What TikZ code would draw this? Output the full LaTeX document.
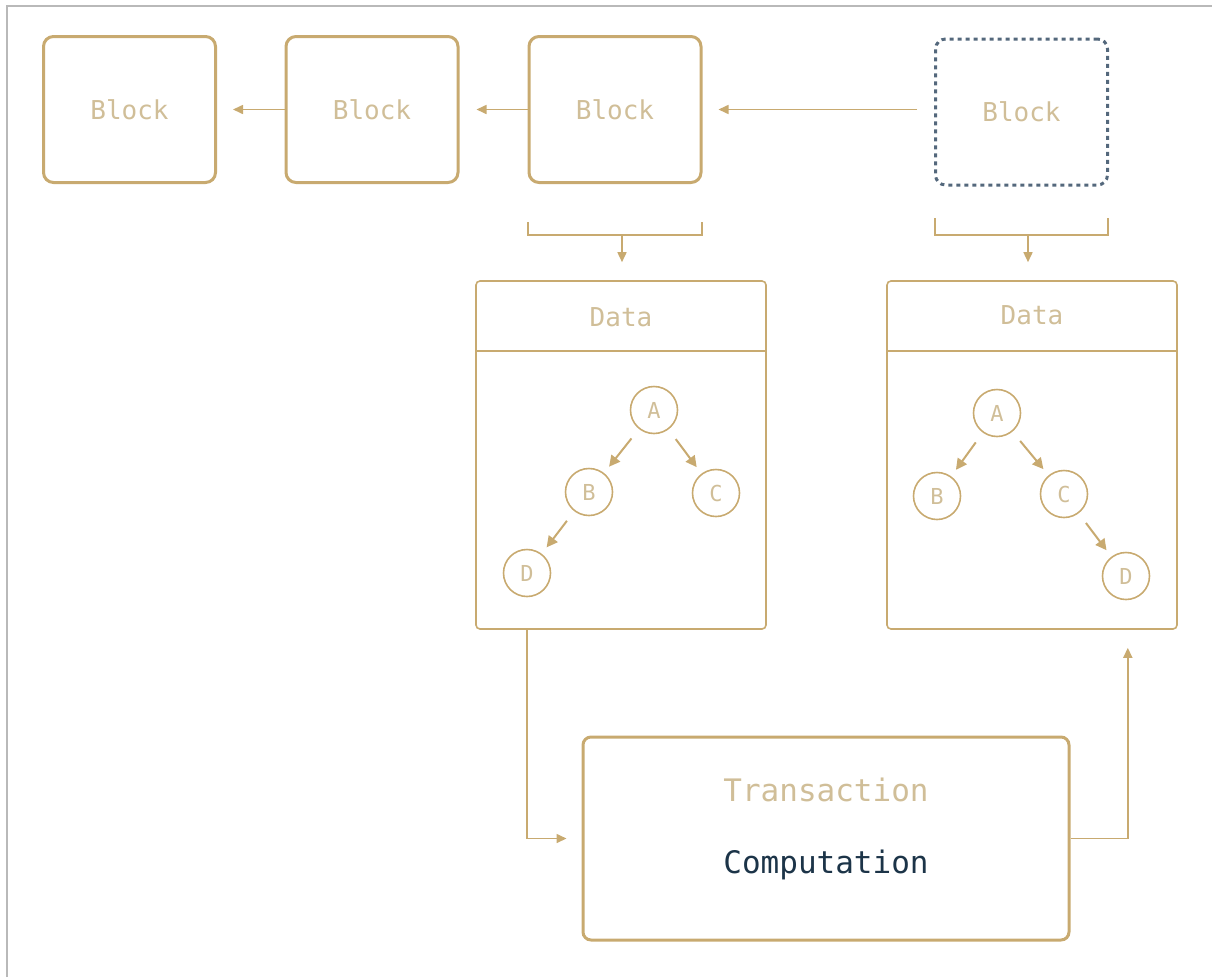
\documentclass[tikz,border=0pt]{standalone}
\usepackage{fontspec}
\setmonofont{DejaVu Sans Mono}
\usetikzlibrary{arrows.meta}
\definecolor{gold}{RGB}{200,170,112}
\definecolor{goldtxt}{RGB}{208,190,152}
\definecolor{navy}{RGB}{28,52,72}
\definecolor{dashblue}{RGB}{84,104,124}
\definecolor{frame}{RGB}{185,185,185}
\tikzset{
  blk/.style={draw=gold, line width=3pt, rounded corners=10pt, minimum width=172pt, minimum height=146pt, inner sep=0pt, text=goldtxt, font=\fontsize{26}{30}\selectfont\ttfamily},
  dashblk/.style={blk, draw=dashblue, dash pattern=on 4pt off 4pt},
  databox/.style={draw=gold, line width=1.6pt, rounded corners=4pt, minimum width=290pt, minimum height=348pt, inner sep=0pt},
  datalbl/.style={text=goldtxt, font=\fontsize{26}{30}\selectfont\ttfamily, inner sep=0pt},
  circ/.style={circle, draw=gold, line width=1.6pt, minimum size=47pt, inner sep=0pt, text=goldtxt, font=\fontsize{22}{26}\selectfont\ttfamily},
  txbox/.style={draw=gold, line width=3pt, rounded corners=8pt, minimum width=486pt, minimum height=203pt, inner sep=0pt},
  arr/.style={draw=gold, line width=1.6pt, -{Triangle[length=10pt,width=9pt]}},
  tarr/.style={arr, line width=2pt, -{Triangle[length=11pt,width=11pt]}, shorten <=12pt, shorten >=8pt},
  bracket/.style={draw=gold, line width=1.5pt},
}
\begin{document}
\begin{tikzpicture}[x=1pt,y=-1pt]
\useasboundingbox (0,0) rectangle (1212,977);
\draw[frame, line width=1.5pt] (7,977) -- (7,6) -- (1212,6);

% blocks
\node[blk] (b1) at (129.5,109.5) {Block};
\node[blk] (b2) at (372,109.5) {Block};
\node[blk] (b3) at (615,109.5) {Block};
\node[dashblk] (b4) at (1021.5,112) {Block};

\draw[arr, shorten >=16pt] (b2.west) -- (b1.east);
\draw[arr, shorten >=17pt] (b3.west) -- (b2.east);
\draw[arr, shorten <=17pt, shorten >=16pt] (b4.west |- b3.east) -- (b3.east);

% brackets
\draw[bracket] (528,222) -- (528,235) -- (702,235) -- (702,222);
\draw[bracket] (935,218) -- (935,235) -- (1108,235) -- (1108,218);
\coordinate (br3) at (622,235);
\coordinate (br4) at (1028,235);

% data boxes
\node[databox] (d1) at (621,455) {};
\node[databox] (d2) at (1032,455) {};
\draw[bracket] ([yshift=-71pt]d1.north west) -- ([yshift=-71pt]d1.north east);
\draw[bracket] ([yshift=-71pt]d2.north west) -- ([yshift=-71pt]d2.north east);
\node[datalbl] (dl1) at (621,317) {Data};
\node[datalbl] (dl2) at (1032,315) {Data};

\draw[arr, shorten >=18pt] (br3) -- (br3 |- d1.north);
\draw[arr, shorten >=18pt] (br4) -- (br4 |- d2.north);

% tree 1
\node[circ] (a1) at (654,410) {A};
\node[circ] (bb1) at (589,492) {B};
\node[circ] (c1) at (716,493) {C};
\node[circ] (dd1) at (527,573) {D};
\draw[tarr] (a1) -- (bb1);
\draw[tarr] (a1) -- (c1);
\draw[tarr] (bb1) -- (dd1);

% tree 2
\node[circ] (a2) at (997,413) {A};
\node[circ] (bb2) at (937,496) {B};
\node[circ] (c2) at (1064,494) {C};
\node[circ] (dd2) at (1126,576) {D};
\draw[tarr] (a2) -- (bb2);
\draw[tarr] (a2) -- (c2);
\draw[tarr] (c2) -- (dd2);

% transaction
\node[txbox] (tx) at (826,838.5) {};
\node[text=goldtxt, font=\fontsize{31}{36}\selectfont\ttfamily, inner sep=0pt] (txl) at (826,790) {Transaction};
\node[text=navy, font=\fontsize{31}{36}\selectfont\ttfamily, inner sep=0pt] (cpl) at (826,865) {Computation};

\draw[arr, shorten >=15pt] ([xshift=52pt]d1.south west) |- (tx.west);
\draw[arr, shorten >=18pt] (tx.east) -| ([xshift=-50pt]d2.south east);
\end{tikzpicture}
\end{document}
